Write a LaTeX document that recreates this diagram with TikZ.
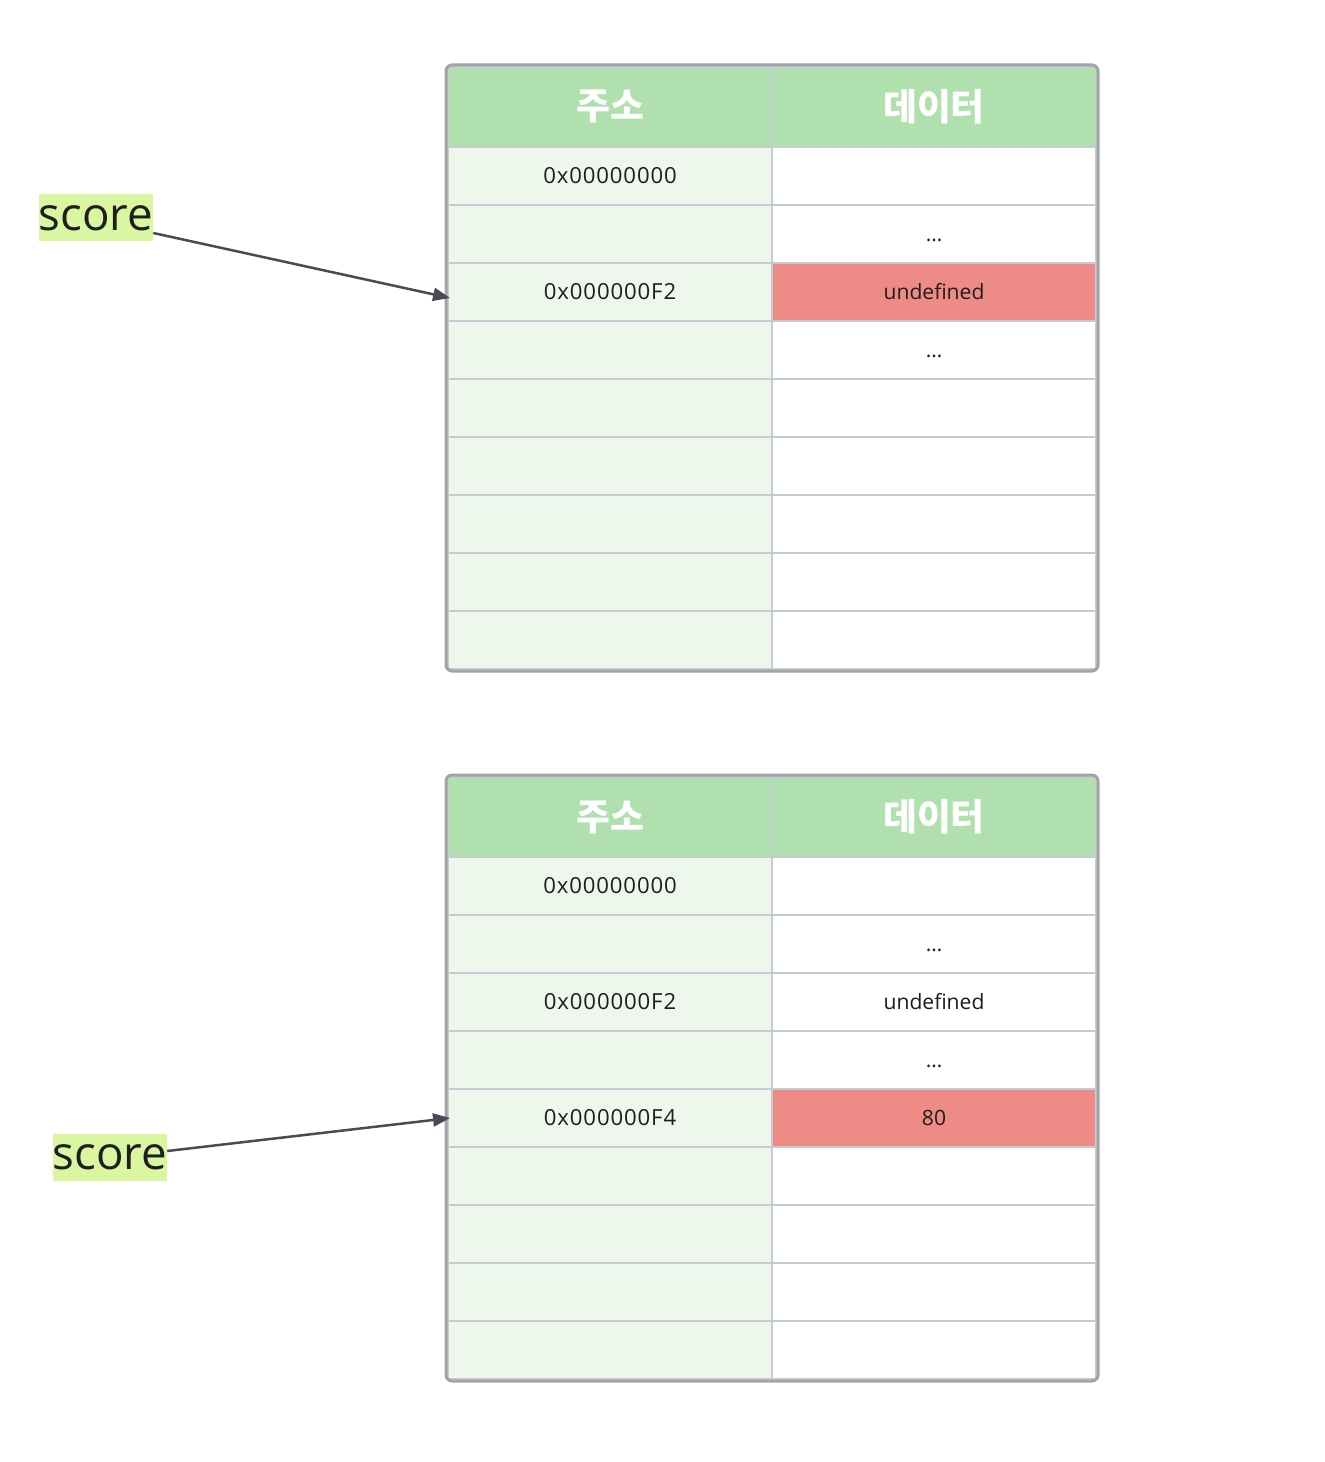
\documentclass[tikz,border=0pt]{standalone}
\usepackage{fontspec}
\setmainfont{Open Sans}
\newfontfamily\krfont{Noto Sans CJK KR}
\usetikzlibrary{calc,arrows.meta}

\definecolor{headgreen}{HTML}{B0E0AD}
\definecolor{addrgreen}{HTML}{EDF7EC}
\definecolor{hotred}{HTML}{EE8B86}
\definecolor{gridgray}{HTML}{C6CBD3}
\definecolor{framegray}{HTML}{A0A4A9}
\definecolor{labelgreen}{HTML}{D9F6A0}
\definecolor{arrowgray}{HTML}{484B53}
\definecolor{inkgray}{HTML}{1E1E1E}

\begin{document}
\begin{tikzpicture}[
		x = 0.02cm, y = -0.02cm,
		every node/.style = {inner sep=0, outer sep=0, text=inkgray},
		headcell/.style = {draw=gridgray, line width=0.05cm, fill=headgreen,
			minimum width=6.48cm, minimum height=1.6cm, text=white,
			font=\krfont\bfseries\fontsize{21}{21}\selectfont},
		datacell/.style = {draw=gridgray, line width=0.05cm,
			minimum width=6.48cm, minimum height=1.16cm,
			text height=9pt, text depth=0pt, font=\fontsize{12}{12}\selectfont},
		addrcell/.style = {datacell, fill=addrgreen,
			font=\fontsize{12.6}{12.6}\selectfont\addfontfeature{LetterSpace=4}},
		varlabel/.style = {fill=labelgreen, minimum width=2.26cm, minimum height=0.94cm,
			font=\fontsize{26}{26}\selectfont},
		pointer/.style = {arrowgray, line width=0.05cm, -{Triangle[length=0.34cm,width=0.26cm]}},
		frame/.style = {framegray, line width=0.06cm, rounded corners=0.12cm}
	]

	\useasboundingbox (0,0) rectangle (1324,1462);

	% table 1
	\node (t1h1) [headcell] at (610,107) {주소};
	\node (t1h2) [headcell] at (934,107) {데이터};
	\foreach \r/\addr/\data/\dfill [evaluate=\r as \yc using 118+58*\r] in {
			1/0x00000000//white, 2//\dots/white, 3/0x000000F2/undefined/hotred,
			4//\dots/white, 5///white, 6///white, 7///white, 8///white, 9///white}{
		\node (t1a\r) [addrcell] at (610,\yc) {\addr};
		\node (t1d\r) [datacell, fill=\dfill] at (934,\yc) {\data};
	}
	\draw[frame] (446,65) rectangle (1098,671);

	% table 2
	\node (t2h1) [headcell] at (610,817) {주소};
	\node (t2h2) [headcell] at (934,817) {데이터};
	\foreach \r/\addr/\data/\dfill [evaluate=\r as \yc using 828+58*\r] in {
			1/0x00000000//white, 2//\dots/white, 3/0x000000F2/undefined/white,
			4//\dots/white, 5/0x000000F4/80/hotred, 6///white, 7///white, 8///white, 9///white}{
		\node (t2a\r) [addrcell] at (610,\yc) {\addr};
		\node (t2d\r) [datacell, fill=\dfill] at (934,\yc) {\data};
	}
	\draw[frame] (446,775) rectangle (1098,1381);

	% variable labels
	\node (s1) [varlabel] at (96,218) {score};
	\node (s2) [varlabel] at (110,1157) {score};

	\draw[pointer] ($(s1.east)+(0,15)$) -- ($(t1a3.west)+(2,6)$);
	\draw[pointer] ($(s2.east)+(0,-6)$) -- ($(t2a5.west)+(2,0)$);

\end{tikzpicture}
\end{document}
